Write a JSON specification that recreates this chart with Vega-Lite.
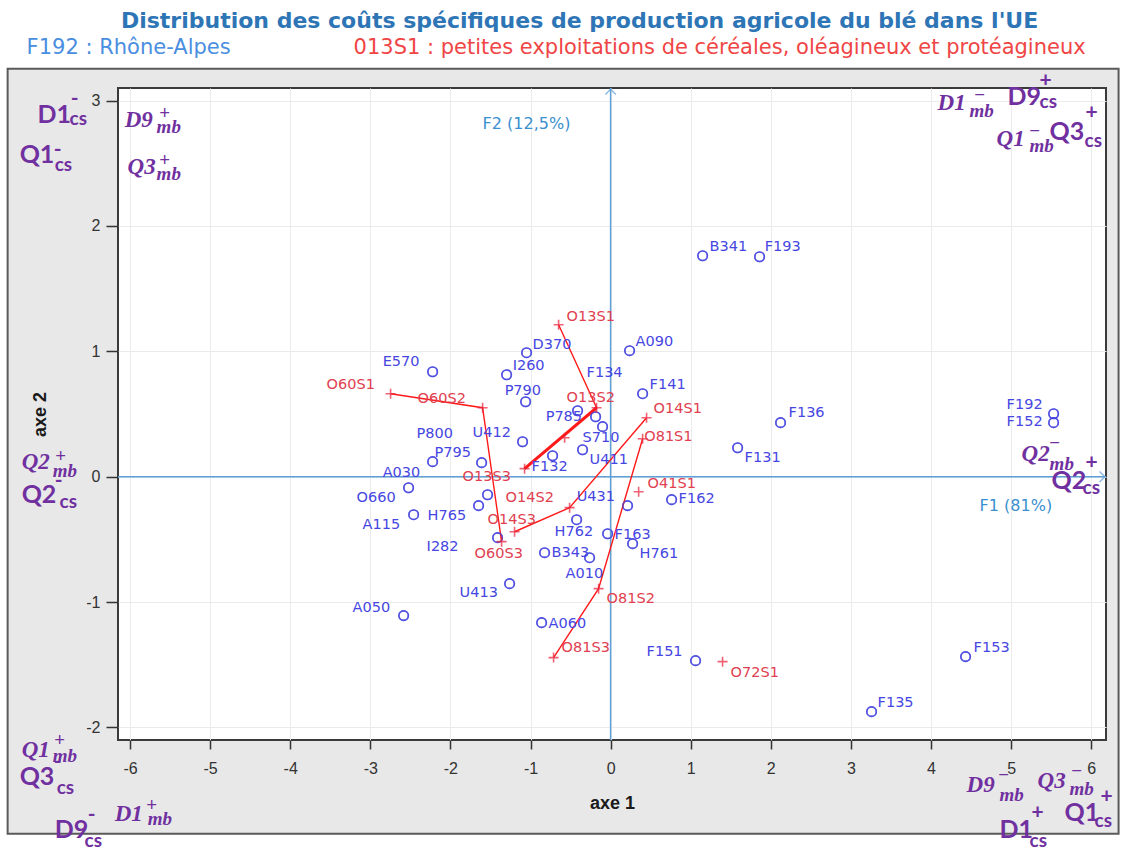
{
"$schema": "https://vega.github.io/schema/vega-lite/v6.json",
"width": 988, "height": 652,
"autosize": {"type": "none"},
"padding": {"left": 118, "top": 88, "right": 21, "bottom": 108},
"background": "#e8e8e8",
"data": {"values": [{}]},
"config": {
 "view": {"fill": "white", "stroke": "#3a3a3a", "strokeWidth": 2},
 "axis": {"gridColor": "#ebebeb", "domain": false, "tickColor": "#333333", "tickWidth": 1.5, "labelFont": "Liberation Sans", "labelFontSize": 16, "labelColor": "#333333", "titleFont": "Liberation Sans", "titleFontSize": 18, "titleFontWeight": "bold", "titleColor": "#1a1a1a"},
 "style": {
  "sb": {"font": "Lato", "fontWeight": "bold", "fontSize": 25, "color": "#7030A0", "fill": "#7030A0", "align": "left", "baseline": "alphabetic"},
  "ss": {"font": "Lato", "fontWeight": "bold", "fontSize": 19, "color": "#7030A0", "fill": "#7030A0", "align": "left", "baseline": "alphabetic"},
  "sp": {"font": "Lato", "fontWeight": "bold", "fontSize": 21, "color": "#7030A0", "fill": "#7030A0", "align": "center", "baseline": "middle"},
  "rb": {"font": "Liberation Serif", "fontWeight": "bold", "fontStyle": "italic", "fontSize": 23, "color": "#7030A0", "fill": "#7030A0", "align": "left", "baseline": "alphabetic"},
  "rs": {"font": "Liberation Serif", "fontWeight": "bold", "fontStyle": "italic", "fontSize": 19, "color": "#7030A0", "fill": "#7030A0", "align": "left", "baseline": "alphabetic"},
  "rp": {"font": "Liberation Serif", "fontWeight": "bold", "fontSize": 19, "color": "#7030A0", "fill": "#7030A0", "align": "center", "baseline": "middle"}
 }
},
"datasets": {
 "regions": [
  {"code": "B341", "x": 1.149, "y": 1.762, "lx": 1.236, "ly": 1.834},
  {"code": "F193", "x": 1.860, "y": 1.754, "lx": 1.923, "ly": 1.834},
  {"code": "A090", "x": 0.237, "y": 1.005, "lx": 0.312, "ly": 1.077},
  {"code": "D370", "x": -1.049, "y": 0.989, "lx": -0.974, "ly": 1.053},
  {"code": "I260", "x": -1.298, "y": 0.813, "lx": -1.223, "ly": 0.885},
  {"code": "E570", "x": -2.222, "y": 0.837, "lx": -2.846, "ly": 0.917},
  {"code": "P790", "x": -1.061, "y": 0.598, "lx": -1.323, "ly": 0.686},
  {"code": "F141", "x": 0.400, "y": 0.662, "lx": 0.487, "ly": 0.734},
  {"code": "F136", "x": 2.122, "y": 0.431, "lx": 2.222, "ly": 0.510},
  {"code": "F192", "x": 5.531, "y": 0.502, "lx": 4.944, "ly": 0.574},
  {"code": "F152", "x": 5.531, "y": 0.431, "lx": 4.944, "ly": 0.439},
  {"code": "P785", "x": -0.412, "y": 0.526, "lx": -0.811, "ly": 0.478},
  {"code": "F134", "x": -0.187, "y": 0.478, "lx": -0.300, "ly": 0.829},
  {"code": "S710", "x": -0.100, "y": 0.399, "lx": -0.350, "ly": 0.311},
  {"code": "U411", "x": -0.350, "y": 0.215, "lx": -0.262, "ly": 0.136},
  {"code": "F132", "x": -0.724, "y": 0.167, "lx": -0.986, "ly": 0.080},
  {"code": "U412", "x": -1.099, "y": 0.279, "lx": -1.723, "ly": 0.351},
  {"code": "P800", "x": -1.536, "y": -0.144, "lx": -2.422, "ly": 0.343},
  {"code": "P795", "x": -1.610, "y": 0.112, "lx": -2.197, "ly": 0.191},
  {"code": "A030", "x": -2.222, "y": 0.120, "lx": -2.846, "ly": 0.032},
  {"code": "O660", "x": -2.522, "y": -0.088, "lx": -3.171, "ly": -0.167},
  {"code": "A115", "x": -2.459, "y": -0.303, "lx": -3.096, "ly": -0.383},
  {"code": "H765", "x": -1.648, "y": -0.231, "lx": -2.285, "ly": -0.311},
  {"code": "I282", "x": -1.411, "y": -0.486, "lx": -2.297, "ly": -0.558},
  {"code": "U431", "x": 0.212, "y": -0.231, "lx": -0.424, "ly": -0.159},
  {"code": "F162", "x": 0.762, "y": -0.183, "lx": 0.849, "ly": -0.175},
  {"code": "H762", "x": -0.424, "y": -0.343, "lx": -0.699, "ly": -0.439},
  {"code": "F163", "x": -0.037, "y": -0.455, "lx": 0.050, "ly": -0.463},
  {"code": "H761", "x": 0.275, "y": -0.534, "lx": 0.362, "ly": -0.614},
  {"code": "B343", "x": -0.824, "y": -0.606, "lx": -0.737, "ly": -0.606},
  {"code": "A010", "x": -0.262, "y": -0.646, "lx": -0.562, "ly": -0.774},
  {"code": "U413", "x": -1.261, "y": -0.853, "lx": -1.885, "ly": -0.925},
  {"code": "A050", "x": -2.584, "y": -1.108, "lx": -3.221, "ly": -1.045},
  {"code": "A060", "x": -0.861, "y": -1.164, "lx": -0.774, "ly": -1.172},
  {"code": "F151", "x": 1.061, "y": -1.467, "lx": 0.449, "ly": -1.396},
  {"code": "F153", "x": 4.432, "y": -1.435, "lx": 4.532, "ly": -1.364},
  {"code": "F135", "x": 3.258, "y": -1.874, "lx": 3.333, "ly": -1.802},
  {"code": "F131", "x": 1.586, "y": 0.231, "lx": 1.673, "ly": 0.152}
 ],
 "otex": [
  {"code": "O13S1", "x": -0.649, "y": 1.212, "lx": -0.549, "ly": 1.276, "grp": "O13", "ord": 1},
  {"code": "O13S2", "x": -0.175, "y": 0.550, "lx": -0.549, "ly": 0.630, "grp": "O13", "ord": 2},
  {"code": "O13S3", "x": -1.074, "y": 0.064, "lx": -1.848, "ly": 0.000, "grp": "O13", "ord": 3},
  {"code": "", "x": -0.574, "y": 0.311, "lx": -0.574, "ly": 0.311, "grp": "", "ord": 0},
  {"code": "O60S1", "x": -2.747, "y": 0.662, "lx": -3.546, "ly": 0.734, "grp": "O60", "ord": 1},
  {"code": "O60S2", "x": -1.598, "y": 0.550, "lx": -2.410, "ly": 0.622, "grp": "O60", "ord": 2},
  {"code": "O60S3", "x": -1.361, "y": -0.518, "lx": -1.698, "ly": -0.614, "grp": "O60", "ord": 3},
  {"code": "O14S1", "x": 0.449, "y": 0.470, "lx": 0.537, "ly": 0.542, "grp": "O14", "ord": 1},
  {"code": "O14S2", "x": -0.512, "y": -0.247, "lx": -1.311, "ly": -0.167, "grp": "O14", "ord": 2},
  {"code": "O14S3", "x": -1.199, "y": -0.439, "lx": -1.536, "ly": -0.343, "grp": "O14", "ord": 3},
  {"code": "O81S1", "x": 0.400, "y": 0.303, "lx": 0.420, "ly": 0.319, "grp": "O81", "ord": 1},
  {"code": "O81S2", "x": -0.150, "y": -0.893, "lx": -0.050, "ly": -0.973, "grp": "O81", "ord": 2},
  {"code": "O81S3", "x": -0.712, "y": -1.443, "lx": -0.612, "ly": -1.364, "grp": "O81", "ord": 3},
  {"code": "O41S1", "x": 0.350, "y": -0.120, "lx": 0.462, "ly": -0.056, "grp": "O41", "ord": 1},
  {"code": "O72S1", "x": 1.398, "y": -1.475, "lx": 1.498, "ly": -1.563, "grp": "O72", "ord": 1}
 ]
},
"layer": [
 {"data": {"name": "regions"}, "mark": {"type": "point", "shape": "circle", "filled": false, "size": 90, "stroke": "#4040e0", "strokeWidth": 1.6},
  "encoding": {
   "x": {"field": "x", "type": "quantitative", "title": "axe 1", "scale": {"domain": [-6.15, 6.185], "nice": false, "zero": false}, "axis": {"values": [-6,-5,-4,-3,-2,-1,0,1,2,3,4,5,6], "labelExpr": "'' + datum.value", "tickSize": 9, "labelPadding": 11, "titlePadding": 18}},
   "y": {"field": "y", "type": "quantitative", "title": "axe 2", "scale": {"domain": [-2.1, 3.1], "nice": false, "zero": false}, "axis": {"values": [-2,-1,0,1,2,3], "labelExpr": "'' + datum.value", "tickSize": 12, "labelPadding": 6, "titleX": -78, "titleBaseline": "middle"}}
  }},
 {"mark": {"type": "rect", "fill": "white"}, "encoding": {"x": {"datum": -8.5}, "x2": {"datum": 7.5}, "y": {"datum": 3.254}, "y2": {"datum": 4.5}}},
 {"mark": {"type": "rect", "fill": "white"}, "encoding": {"x": {"datum": -8.5}, "x2": {"datum": -7.528}, "y": {"datum": -3.5}, "y2": {"datum": 4.5}}},
 {"mark": {"type": "rect", "fill": "white"}, "encoding": {"x": {"datum": 6.342}, "x2": {"datum": 7.5}, "y": {"datum": -3.5}, "y2": {"datum": 4.5}}},
 {"mark": {"type": "rect", "fill": "white"}, "encoding": {"x": {"datum": -8.5}, "x2": {"datum": 7.5}, "y": {"datum": -3.5}, "y2": {"datum": -2.847}}},
 {"mark": {"type": "rect", "fillOpacity": 0, "stroke": "#5a5a5a", "strokeWidth": 2}, "encoding": {"x": {"datum": -7.528}, "x2": {"datum": 6.342}, "y": {"datum": -2.847}, "y2": {"datum": 3.254}}},
 {"mark": {"type": "rule", "color": "#5fa0d8", "strokeWidth": 1.5}, "encoding": {"x": {"datum": 0}}},
 {"mark": {"type": "rule", "color": "#5fa0d8", "strokeWidth": 1.5}, "encoding": {"y": {"datum": 0}}},
 {"mark": {"type": "point", "shape": "M-1,1L0,0L1,1", "filled": false, "size": 110, "stroke": "#5fa0d8", "strokeWidth": 1.5}, "encoding": {"x": {"datum": 0}, "y": {"datum": 3.09}}},
 {"mark": {"type": "point", "shape": "M-1,-1L0,0L-1,1", "filled": false, "size": 110, "stroke": "#5fa0d8", "strokeWidth": 1.5}, "encoding": {"x": {"datum": 6.17}, "y": {"datum": 0}}},
 {"data": {"name": "otex"}, "transform": [{"filter": "datum.grp == 'O13' || datum.grp == 'O60' || datum.grp == 'O14' || datum.grp == 'O81'"}],
  "mark": {"type": "line", "color": "#ff1a1a", "strokeWidth": 1.4},
  "encoding": {"x": {"field": "x", "type": "quantitative", "title": "axe 1"}, "y": {"field": "y", "type": "quantitative", "title": "axe 2"}, "detail": {"field": "grp"}, "order": {"field": "ord"}}},
 {"data": {"name": "otex"}, "transform": [{"filter": "datum.grp == 'O13' && datum.ord >= 2"}],
  "mark": {"type": "line", "color": "#ff1a1a", "strokeWidth": 3},
  "encoding": {"x": {"field": "x", "type": "quantitative", "title": "axe 1"}, "y": {"field": "y", "type": "quantitative", "title": "axe 2"}, "order": {"field": "ord"}}},
 {"data": {"name": "regions"}, "mark": {"type": "point", "shape": "circle", "filled": false, "size": 90, "stroke": "#4040e0", "strokeWidth": 1.6},
  "encoding": {"x": {"field": "x", "type": "quantitative", "title": "axe 1"}, "y": {"field": "y", "type": "quantitative", "title": "axe 2"}}},
 {"data": {"name": "otex"}, "mark": {"type": "point", "shape": "M-1,0L1,0M0,-1L0,1", "filled": false, "size": 100, "stroke": "#e8203a", "strokeWidth": 1.6},
  "encoding": {"x": {"field": "x", "type": "quantitative", "title": "axe 1"}, "y": {"field": "y", "type": "quantitative", "title": "axe 2"}}},
 {"data": {"name": "regions"}, "mark": {"type": "text", "align": "left", "baseline": "middle", "font": "DejaVu Sans", "fontSize": 14.5, "color": "#4646e2"},
  "encoding": {"x": {"field": "lx", "type": "quantitative", "title": "axe 1"}, "y": {"field": "ly", "type": "quantitative", "title": "axe 2"}, "text": {"field": "code"}}},
 {"data": {"name": "otex"}, "mark": {"type": "text", "align": "left", "baseline": "middle", "font": "DejaVu Sans", "fontSize": 14.5, "color": "#e0404f"},
  "encoding": {"x": {"field": "lx", "type": "quantitative", "title": "axe 1"}, "y": {"field": "ly", "type": "quantitative", "title": "axe 2"}, "text": {"field": "code"}}},
 {"mark": {"type": "text", "text": "F2 (12,5%)", "font": "DejaVu Sans", "fontSize": 16, "color": "#3a8fd0", "align": "left", "baseline": "middle"}, "encoding": {"x": {"datum": -1.598}, "y": {"datum": 2.815}}},
 {"mark": {"type": "text", "text": "F1 (81%)", "font": "DejaVu Sans", "fontSize": 16, "color": "#3a8fd0", "align": "left", "baseline": "middle"}, "encoding": {"x": {"datum": 4.607}, "y": {"datum": -0.231}}},
 {"mark": {"type": "text", "text": "Distribution des coûts spécifiques de production agricole du blé dans l'UE", "font": "DejaVu Sans", "fontWeight": "bold", "fontSize": 22, "color": "#2e75b6", "align": "center", "baseline": "middle"}, "encoding": {"x": {"datum": -0.387}, "y": {"datum": 3.636}}},
 {"mark": {"type": "text", "text": "F192 : Rhône-Alpes", "font": "DejaVu Sans", "fontSize": 21, "color": "#4a8ee0", "align": "left", "baseline": "middle"}, "encoding": {"x": {"datum": -7.291}, "y": {"datum": 3.421}}},
 {"mark": {"type": "text", "text": "013S1 : petites exploitations de céréales, oléagineux et protéagineux", "font": "DejaVu Sans", "fontSize": 21, "color": "#f04545", "align": "center", "baseline": "middle"}, "encoding": {"x": {"datum": 1.361}, "y": {"datum": 3.421}}},

 {"mark": {"type": "text", "style": "sb", "text": "D1"}, "encoding": {"x": {"datum": -7.154}, "y": {"datum": 2.823}}},
 {"mark": {"type": "text", "style": "sb", "text": "Q1"}, "encoding": {"x": {"datum": -7.378}, "y": {"datum": 2.504}}},
 {"mark": {"type": "text", "style": "sb", "text": "D9"}, "encoding": {"x": {"datum": 4.956}, "y": {"datum": 2.967}}},
 {"mark": {"type": "text", "style": "sb", "text": "Q3"}, "encoding": {"x": {"datum": 5.481}, "y": {"datum": 2.687}}},
 {"mark": {"type": "text", "style": "sb", "text": "Q2"}, "encoding": {"x": {"datum": -7.353}, "y": {"datum": -0.207}}},
 {"mark": {"type": "text", "style": "sb", "text": "Q2"}, "encoding": {"x": {"datum": 5.506}, "y": {"datum": -0.096}}},
 {"mark": {"type": "text", "style": "sb", "text": "Q3"}, "encoding": {"x": {"datum": -7.378}, "y": {"datum": -2.456}}},
 {"mark": {"type": "text", "style": "sb", "text": "D9"}, "encoding": {"x": {"datum": -6.941}, "y": {"datum": -2.879}}},
 {"mark": {"type": "text", "style": "sb", "text": "D1"}, "encoding": {"x": {"datum": 4.856}, "y": {"datum": -2.879}}},
 {"mark": {"type": "text", "style": "sb", "text": "Q1"}, "encoding": {"x": {"datum": 5.668}, "y": {"datum": -2.743}}},

 {"mark": {"type": "text", "style": "ss", "text": "cs"}, "encoding": {"x": {"datum": -6.754}, "y": {"datum": 2.807}}},
 {"mark": {"type": "text", "style": "ss", "text": "cs"}, "encoding": {"x": {"datum": -6.941}, "y": {"datum": 2.440}}},
 {"mark": {"type": "text", "style": "ss", "text": "cs"}, "encoding": {"x": {"datum": 5.356}, "y": {"datum": 2.943}}},
 {"mark": {"type": "text", "style": "ss", "text": "cs"}, "encoding": {"x": {"datum": 5.918}, "y": {"datum": 2.632}}},
 {"mark": {"type": "text", "style": "ss", "text": "cs"}, "encoding": {"x": {"datum": -6.879}, "y": {"datum": -0.247}}},
 {"mark": {"type": "text", "style": "ss", "text": "cs"}, "encoding": {"x": {"datum": 5.893}, "y": {"datum": -0.136}}},
 {"mark": {"type": "text", "style": "ss", "text": "cs"}, "encoding": {"x": {"datum": -6.916}, "y": {"datum": -2.528}}},
 {"mark": {"type": "text", "style": "ss", "text": "cs"}, "encoding": {"x": {"datum": -6.567}, "y": {"datum": -2.951}}},
 {"mark": {"type": "text", "style": "ss", "text": "cs"}, "encoding": {"x": {"datum": 5.231}, "y": {"datum": -2.951}}},
 {"mark": {"type": "text", "style": "ss", "text": "cs"}, "encoding": {"x": {"datum": 6.042}, "y": {"datum": -2.791}}},

 {"mark": {"type": "text", "style": "sp", "text": "-"}, "encoding": {"x": {"datum": -6.692}, "y": {"datum": 3.014}}},
 {"mark": {"type": "text", "style": "sp", "text": "-"}, "encoding": {"x": {"datum": -6.904}, "y": {"datum": 2.608}}},
 {"mark": {"type": "text", "style": "sp", "text": "+"}, "encoding": {"x": {"datum": 5.431}, "y": {"datum": 3.158}}},
 {"mark": {"type": "text", "style": "sp", "text": "+"}, "encoding": {"x": {"datum": 6.005}, "y": {"datum": 2.903}}},
 {"mark": {"type": "text", "style": "sp", "text": "-"}, "encoding": {"x": {"datum": -6.891}, "y": {"datum": -0.032}}},
 {"mark": {"type": "text", "style": "sp", "text": "+"}, "encoding": {"x": {"datum": 6.005}, "y": {"datum": 0.112}}},
 {"mark": {"type": "text", "style": "sp", "text": "-"}, "encoding": {"x": {"datum": -6.904}, "y": {"datum": -2.273}}},
 {"mark": {"type": "text", "style": "sp", "text": "-"}, "encoding": {"x": {"datum": -6.479}, "y": {"datum": -2.695}}},
 {"mark": {"type": "text", "style": "sp", "text": "+"}, "encoding": {"x": {"datum": 5.331}, "y": {"datum": -2.679}}},
 {"mark": {"type": "text", "style": "sp", "text": "+"}, "encoding": {"x": {"datum": 6.192}, "y": {"datum": -2.552}}},

 {"mark": {"type": "text", "style": "rb", "text": "D9"}, "encoding": {"x": {"datum": -6.067}, "y": {"datum": 2.791}}},
 {"mark": {"type": "text", "style": "rb", "text": "Q3"}, "encoding": {"x": {"datum": -6.030}, "y": {"datum": 2.416}}},
 {"mark": {"type": "text", "style": "rb", "text": "D1"}, "encoding": {"x": {"datum": 4.082}, "y": {"datum": 2.927}}},
 {"mark": {"type": "text", "style": "rb", "text": "Q1"}, "encoding": {"x": {"datum": 4.819}, "y": {"datum": 2.640}}},
 {"mark": {"type": "text", "style": "rb", "text": "Q2"}, "encoding": {"x": {"datum": -7.353}, "y": {"datum": 0.064}}},
 {"mark": {"type": "text", "style": "rb", "text": "Q2"}, "encoding": {"x": {"datum": 5.131}, "y": {"datum": 0.128}}},
 {"mark": {"type": "text", "style": "rb", "text": "Q1"}, "encoding": {"x": {"datum": -7.353}, "y": {"datum": -2.233}}},
 {"mark": {"type": "text", "style": "rb", "text": "D1"}, "encoding": {"x": {"datum": -6.192}, "y": {"datum": -2.743}}},
 {"mark": {"type": "text", "style": "rb", "text": "D9"}, "encoding": {"x": {"datum": 4.444}, "y": {"datum": -2.512}}},
 {"mark": {"type": "text", "style": "rb", "text": "Q3"}, "encoding": {"x": {"datum": 5.331}, "y": {"datum": -2.480}}},

 {"mark": {"type": "text", "style": "rs", "text": "mb"}, "encoding": {"x": {"datum": -5.668}, "y": {"datum": 2.743}}},
 {"mark": {"type": "text", "style": "rs", "text": "mb"}, "encoding": {"x": {"datum": -5.668}, "y": {"datum": 2.368}}},
 {"mark": {"type": "text", "style": "rs", "text": "mb"}, "encoding": {"x": {"datum": 4.482}, "y": {"datum": 2.871}}},
 {"mark": {"type": "text", "style": "rs", "text": "mb"}, "encoding": {"x": {"datum": 5.231}, "y": {"datum": 2.592}}},
 {"mark": {"type": "text", "style": "rs", "text": "mb"}, "encoding": {"x": {"datum": -6.966}, "y": {"datum": 0.0}}},
 {"mark": {"type": "text", "style": "rs", "text": "mb"}, "encoding": {"x": {"datum": 5.481}, "y": {"datum": 0.056}}},
 {"mark": {"type": "text", "style": "rs", "text": "mb"}, "encoding": {"x": {"datum": -6.966}, "y": {"datum": -2.273}}},
 {"mark": {"type": "text", "style": "rs", "text": "mb"}, "encoding": {"x": {"datum": -5.780}, "y": {"datum": -2.775}}},
 {"mark": {"type": "text", "style": "rs", "text": "mb"}, "encoding": {"x": {"datum": 4.856}, "y": {"datum": -2.584}}},
 {"mark": {"type": "text", "style": "rs", "text": "mb"}, "encoding": {"x": {"datum": 5.730}, "y": {"datum": -2.536}}},

 {"mark": {"type": "text", "style": "rp", "text": "+"}, "encoding": {"x": {"datum": -5.568}, "y": {"datum": 2.903}}},
 {"mark": {"type": "text", "style": "rp", "text": "+"}, "encoding": {"x": {"datum": -5.568}, "y": {"datum": 2.528}}},
 {"mark": {"type": "text", "style": "rp", "text": "−"}, "encoding": {"x": {"datum": 4.607}, "y": {"datum": 3.046}}},
 {"mark": {"type": "text", "style": "rp", "text": "−"}, "encoding": {"x": {"datum": 5.293}, "y": {"datum": 2.759}}},
 {"mark": {"type": "text", "style": "rp", "text": "+"}, "encoding": {"x": {"datum": -6.866}, "y": {"datum": 0.167}}},
 {"mark": {"type": "text", "style": "rp", "text": "−"}, "encoding": {"x": {"datum": 5.543}, "y": {"datum": 0.271}}},
 {"mark": {"type": "text", "style": "rp", "text": "+"}, "encoding": {"x": {"datum": -6.879}, "y": {"datum": -2.097}}},
 {"mark": {"type": "text", "style": "rp", "text": "+"}, "encoding": {"x": {"datum": -5.730}, "y": {"datum": -2.616}}},
 {"mark": {"type": "text", "style": "rp", "text": "−"}, "encoding": {"x": {"datum": 4.906}, "y": {"datum": -2.376}}},
 {"mark": {"type": "text", "style": "rp", "text": "−"}, "encoding": {"x": {"datum": 5.818}, "y": {"datum": -2.344}}}
]
}
